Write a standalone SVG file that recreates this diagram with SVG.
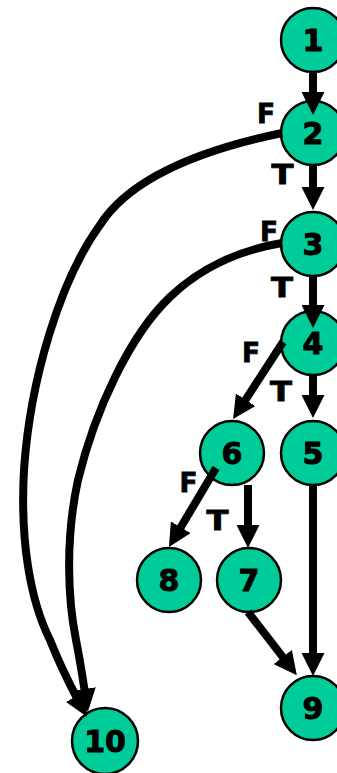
<svg xmlns="http://www.w3.org/2000/svg" width="337" height="773" viewBox="0 0 337 773">
  <style>
    .node circle { fill: #00CC99; stroke: #000; stroke-width: 2.5; }
    .node text { font-family: "DejaVu Sans", sans-serif; font-weight: bold; font-size: 30px; text-anchor: middle; fill: #000; stroke: #000; stroke-width: 1; }
    .edge { fill: none; stroke: #000; stroke-width: 8; marker-end: url(#arrow); }
    .lbl { font-family: "DejaVu Sans", sans-serif; font-weight: bold; font-size: 27px; text-anchor: middle; fill: #000; stroke: #000; stroke-width: 0.8; }
  </style>
  <defs>
    <marker id="arrow" markerUnits="userSpaceOnUse" markerWidth="23" markerHeight="23" refX="4" refY="11.5" orient="auto">
      <path d="M0,0 L23,11.5 L0,23 Z" fill="#000"/>
    </marker>
  </defs>

  <!-- nodes -->
  <g id="n1" class="node"><circle cx="313" cy="40" r="32"/><text x="313" y="51">1</text></g>
  <g id="n2" class="node"><circle cx="313" cy="133" r="32"/><text x="313" y="144">2</text></g>
  <g id="n3" class="node"><circle cx="313" cy="244" r="32"/><text x="313" y="255">3</text></g>
  <g id="n4" class="node"><circle cx="313" cy="343" r="32"/><text x="313" y="354">4</text></g>
  <g id="n5" class="node"><circle cx="313" cy="453" r="32"/><text x="313" y="464">5</text></g>
  <g id="n6" class="node"><circle cx="232" cy="453" r="32"/><text x="232" y="464">6</text></g>
  <g id="n7" class="node"><circle cx="249" cy="580" r="32"/><text x="249" y="591">7</text></g>
  <g id="n8" class="node"><circle cx="169" cy="580" r="32"/><text x="169" y="591">8</text></g>
  <g id="n9" class="node"><circle cx="313" cy="708" r="32"/><text x="313" y="719">9</text></g>
  <g id="n10" class="node"><circle cx="105" cy="741" r="33"/><text x="105" y="752">10</text></g>

  <!-- connectors -->
  <g id="edges">
    <line class="edge" x1="313" y1="72" x2="313" y2="96"/>
    <line class="edge" x1="313" y1="165" x2="313" y2="191"/>
    <line class="edge" x1="313" y1="276" x2="313" y2="309"/>
    <line class="edge" x1="313" y1="375" x2="313" y2="399"/>
    <line class="edge" x1="283" y1="342" x2="243.4" y2="403.1"/>
    <line class="edge" x1="216" y1="468" x2="178.7" y2="530.7"/>
    <line class="edge" x1="248" y1="485" x2="248" y2="529"/>
    <line class="edge" x1="248" y1="612" x2="285.2" y2="660.1"/>
    <line class="edge" x1="313" y1="485" x2="313" y2="657"/>
    <path class="edge" d="M282,133 C210,148 132,175 100,225 C60,280 30,380 24,470 C20,540 30,600 50,640 C60,665 70,685 78,700"/>
    <path class="edge" d="M282,243 C240,250 200,268 170,297 C130,335 95,410 78,480 C65,540 68,600 76,640 C80,660 83,680 85,693"/>
  </g>

  <!-- branch labels -->
  <g id="labels">
    <text class="lbl" x="266" y="123" textLength="18" lengthAdjust="spacingAndGlyphs">F</text>
    <text class="lbl" x="282.5" y="184" textLength="22" lengthAdjust="spacingAndGlyphs">T</text>
    <text class="lbl" x="269" y="241" textLength="18" lengthAdjust="spacingAndGlyphs">F</text>
    <text class="lbl" x="282" y="297" textLength="22" lengthAdjust="spacingAndGlyphs">T</text>
    <text class="lbl" x="251" y="362" textLength="18" lengthAdjust="spacingAndGlyphs">F</text>
    <text class="lbl" x="281" y="401" textLength="22" lengthAdjust="spacingAndGlyphs">T</text>
    <text class="lbl" x="188.5" y="492" textLength="18" lengthAdjust="spacingAndGlyphs">F</text>
    <text class="lbl" x="217.5" y="530" textLength="22" lengthAdjust="spacingAndGlyphs">T</text>
  </g>
</svg>
